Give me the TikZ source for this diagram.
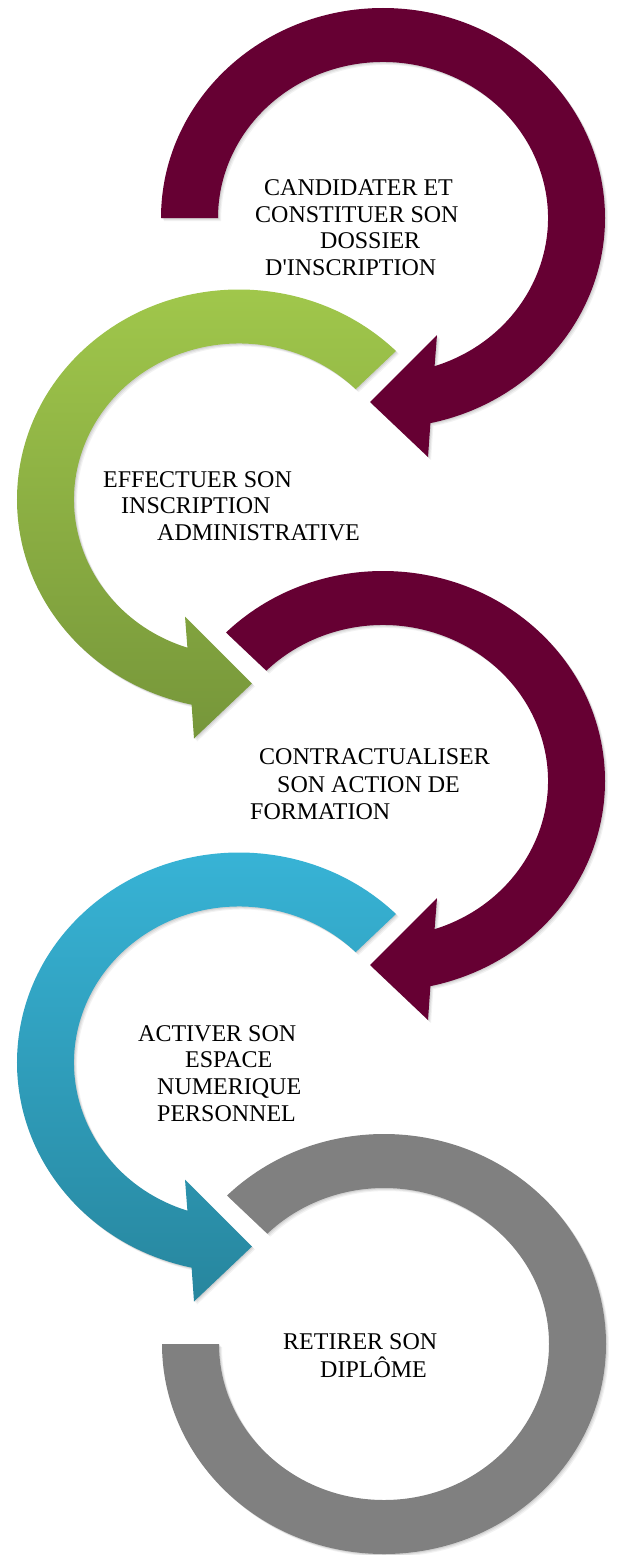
\documentclass[tikz,border=0pt]{standalone}
\usepackage{fontspec}
\newfontfamily\labfont{Liberation Serif}
\definecolor{maroon}{HTML}{660033}
\definecolor{greyring}{HTML}{808080}
\definecolor{grnT}{HTML}{A2C94C}
\definecolor{grnB}{HTML}{76963A}
\definecolor{cyaT}{HTML}{38B5D8}
\definecolor{cyaB}{HTML}{27869E}
\newcommand\ringarrow[1]{(#1:222pt and 210pt) arc[start angle=#1, end angle=-77.67, x radius=222pt, y radius=210pt] -- (45pt,-239pt) -- (-13pt,-184pt) -- (54pt,-117pt) -- (-71.78:165pt and 156pt) arc[start angle=-71.78, end angle=#1, x radius=165pt, y radius=156pt] -- cycle}
\tikzset{
  lab/.style={anchor=base west, inner sep=0pt, font=\labfont\fontsize{24}{26.5}\selectfont},
  softshadow/.style={
    preaction={fill=black, fill opacity=0.05, transform canvas={shift={(3pt,-3pt)}}},
    preaction={fill=black, fill opacity=0.06, transform canvas={shift={(2pt,-2pt)}}},
    preaction={fill=black, fill opacity=0.07, transform canvas={shift={(1pt,-1pt)}}}}
}
\begin{document}
\begin{tikzpicture}[x=1pt,y=1pt]
\useasboundingbox[fill=white] (0,0) rectangle (616,-1555);
% ring 1
\begin{scope}[shift={(383,-218)}]
  \fill[maroon, softshadow] \ringarrow{180};
\end{scope}
% ring 2
\begin{scope}[shift={(239,-499.5)}, xscale=-1]
  \shade[top color=grnT, bottom color=grnB, softshadow] \ringarrow{135};
\end{scope}
% ring 3
\begin{scope}[shift={(383,-781)}]
  \fill[maroon, softshadow] \ringarrow{135};
\end{scope}
% ring 4
\begin{scope}[shift={(239,-1062.5)}, xscale=-1]
  \shade[top color=cyaT, bottom color=cyaB, softshadow] \ringarrow{135};
\end{scope}
% ring 5
\begin{scope}[shift={(384,-1344)}]
  \fill[greyring, softshadow] (135:222pt and 210pt) arc[start angle=135, end angle=-180, x radius=222pt, y radius=210pt] -- (-180:165pt and 156pt) arc[start angle=-180, end angle=135, x radius=165pt, y radius=156pt] -- cycle;
\end{scope}
% labels
\node[lab] (l1a) at (264,-195) {CANDIDATER ET};
\node[lab] (l1b) at (255,-222) {CONSTITUER SON};
\node[lab] (l1c) at (320,-248) {DOSSIER};
\node[lab] (l1d) at (265,-275) {D'INSCRIPTION};
\node[lab] (l2a) at (103,-487) {EFFECTUER SON};
\node[lab] (l2b) at (121,-513) {INSCRIPTION};
\node[lab] (l2c) at (157,-540) {ADMINISTRATIVE};
\node[lab] (l3a) at (259,-764) {CONTRACTUALISER};
\node[lab] (l3b) at (277,-792) {SON ACTION DE};
\node[lab] (l3c) at (250,-819) {FORMATION};
\node[lab] (l4a) at (138,-1041) {ACTIVER SON};
\node[lab] (l4b) at (185,-1067) {ESPACE};
\node[lab] (l4c) at (157,-1094) {NUMERIQUE};
\node[lab] (l4d) at (157,-1121) {PERSONNEL};
\node[lab] (l5a) at (283,-1349) {RETIRER SON};
\node[lab] (l5b) at (320,-1377) {DIPLÔME};
\end{tikzpicture}
\end{document}
